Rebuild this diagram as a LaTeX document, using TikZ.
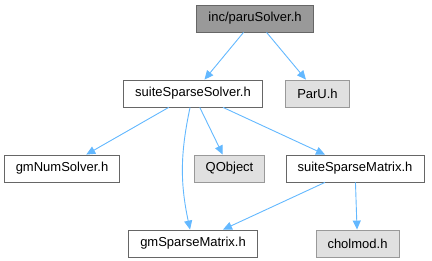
\documentclass[tikz,border=0pt]{standalone}
\usepackage{fontspec}
\setmainfont{Liberation Sans}
\usetikzlibrary{arrows.meta}

\definecolor{edgeblue}{HTML}{63B8FF}
\definecolor{topfill}{HTML}{999999}
\definecolor{extfill}{HTML}{E0E0E0}

\begin{document}
\begin{tikzpicture}[
        x=1pt, y=-1pt,
        file/.style={rectangle, draw=black!60, fill=white, line width=0.8pt, minimum height=27pt, inner xsep=11.5pt, inner ysep=0pt, font=\fontsize{13}{15}\selectfont},
        topfile/.style={file, fill=topfill},
        extfile/.style={file, draw=black!40, fill=extfill},
        dep/.style={draw=edgeblue, line width=0.9pt, -{Triangle[length=9pt, width=8pt]}},
    ]
    \useasboundingbox (0,0) rectangle (432,261);

    % Row y-positions
    \def\rA{18.5}   % the header itself
    \def\rB{93.5}   % direct includes
    \def\rC{168.5}  % includes of suiteSparseSolver.h
    \def\rD{243.5}  % includes of suiteSparseMatrix.h

    % ===== Files =====
    \node[topfile] (paru) at (255, \rA) {inc/paruSolver.h};

    \node[file] (sss) at (193, \rB) {suiteSparseSolver.h};
    \node[extfile] (paruh) at (317.5, \rB) {ParU.h};

    \node[file] (gns) at (62, \rC) {gmNumSolver.h};
    \node[extfile] (qobj) at (229.5, \rC) {QObject};
    \node[file] (ssm) at (355, \rC) {suiteSparseMatrix.h};

    \node[file] (gsm) at (193, \rD) {gmSparseMatrix.h};
    \node[extfile] (chol) at (357.5, \rD) {cholmod.h};

    % ===== Include edges =====
    \draw[dep] (paru) -- (sss);
    \draw[dep] (paru) -- (paruh);

    \draw[dep] (sss) -- (gns);
    \draw[dep] (sss) to[bend right=12] (gsm);
    \draw[dep] (sss) -- (qobj);
    \draw[dep] (sss) -- (ssm);

    \draw[dep] (ssm) -- (gsm);
    \draw[dep] (ssm) -- (chol);

    \end{tikzpicture}
\end{document}
